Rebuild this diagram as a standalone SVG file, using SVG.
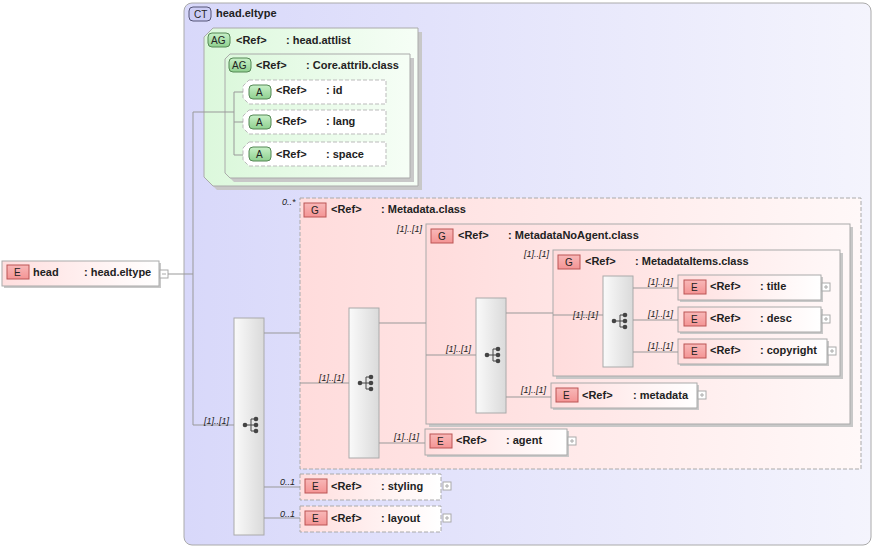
<svg xmlns="http://www.w3.org/2000/svg" xmlns:xlink="http://www.w3.org/1999/xlink" width="875" height="548" viewBox="0 0 875 548">
<style>
text{font-family:"Liberation Sans",Arial,sans-serif;font-size:11px;font-weight:bold;fill:#222}
.occ{font-size:9px;font-style:italic;font-weight:normal}
.badge{font-weight:normal;font-size:10px}
.ln{stroke:#999;stroke-width:1;fill:none}
.el{fill:url(#gE);stroke:#aaa}
.eb{fill:url(#gB);stroke:#b55}
.ab{fill:url(#gAB);stroke:#585}
.comp{fill:url(#gC);stroke:#aaa}
.sh{fill:#c8c8c8}
.plus{fill:#fff;stroke:#aaa}
</style>
<defs>
<linearGradient id="gCT" x1="0" x2="1"><stop offset="0" stop-color="#d8d8fa"/><stop offset="1" stop-color="#f4f4fd"/></linearGradient>
<linearGradient id="gAG" x1="0" x2="1"><stop offset="0" stop-color="#dcf8dc"/><stop offset="1" stop-color="#f6fef6"/></linearGradient>
<linearGradient id="gG" x1="0" x2="1"><stop offset="0" stop-color="#ffdcdc"/><stop offset="1" stop-color="#fff8f8"/></linearGradient>
<linearGradient id="gE" x1="0" x2="1"><stop offset="0" stop-color="#ffdede"/><stop offset="1" stop-color="#fff"/></linearGradient>
<linearGradient id="gB" x1="0" x2="0" y1="0" y2="1"><stop offset="0" stop-color="#f8b8b8"/><stop offset="1" stop-color="#f49494"/></linearGradient>
<linearGradient id="gAB" x1="0" x2="0" y1="0" y2="1"><stop offset="0" stop-color="#c8f0c8"/><stop offset="1" stop-color="#8fd08f"/></linearGradient>
<linearGradient id="gC" x1="0" x2="1"><stop offset="0" stop-color="#fafafa"/><stop offset="1" stop-color="#dadada"/></linearGradient>
<g id="seq"><circle cx="-6" cy="0" r="2.3" fill="#444"/><path d="M-6 0H0M0-6V6M0-6H4M0 0H4M0 6H4" stroke="#444" fill="none"/><circle cx="5" cy="-6" r="2.3" fill="#444"/><circle cx="5" cy="0" r="2.3" fill="#444"/><circle cx="5" cy="6" r="2.3" fill="#444"/></g>
<g id="plus"><rect x="0" y="0" width="8" height="8" class="plus"/><path d="M2 4H6M4 2V6" stroke="#aaa"/></g>
</defs>

<g id="ct">
<rect x="184" y="3" width="687" height="542" rx="8" fill="url(#gCT)" stroke="#aaa"/>
<rect x="189" y="7" width="22" height="14" rx="4" fill="#ccccf4" stroke="#557"/><text x="194" y="18" class="badge">CT</text>
<text x="216" y="17">head.eltype</text>
</g>

<g id="head">
<rect x="4" y="263" width="157" height="25" class="sh"/>
<rect x="2" y="261" width="157" height="25" class="el"/>
<rect x="7" y="265" width="22" height="14" class="eb"/><text x="14" y="276" class="badge">E</text>
<text x="33" y="276">head</text><text x="84" y="276">: head.eltype</text>
<rect x="160" y="270" width="8" height="8" class="plus"/><path d="M162 274H166" stroke="#aaa"/>
</g>

<g id="head-attlist">
<path d="M217 32H422V190H217L208 181V41Z" class="sh"/>
<path d="M213 28H418V186H213L204 177V37Z" fill="url(#gAG)" stroke="#aaa"/>
<rect x="208" y="33" width="22" height="14" rx="4" class="ab"/><text x="211" y="44" class="badge">AG</text>
<text x="236" y="44">&lt;Ref&gt;</text><text x="286" y="44">: head.attlist</text>
</g>
<g id="core-attrib">
<path d="M234 58H414V182H234L229 177V63Z" class="sh"/>
<path d="M230 54H410V178H230L225 173V59Z" fill="url(#gAG)" stroke="#aaa"/>
<rect x="229" y="58" width="22" height="14" rx="4" class="ab"/><text x="232" y="69" class="badge">AG</text>
<text x="256" y="69">&lt;Ref&gt;</text><text x="306" y="69">: Core.attrib.class</text>
</g>
<g id="attr-id">
<path d="M249 80H386V104H249L243 98V86Z" fill="#fff" stroke="#bbb" stroke-dasharray="4,2"/>
<rect x="249" y="85" width="22" height="14" rx="4" class="ab"/><text x="256" y="96" class="badge">A</text>
<text x="276" y="94">&lt;Ref&gt;</text><text x="326" y="94">: id</text>
</g>
<g id="attr-lang">
<path d="M249 110H386V134H249L243 128V116Z" fill="#fff" stroke="#bbb" stroke-dasharray="4,2"/>
<rect x="249" y="115" width="22" height="14" rx="4" class="ab"/><text x="256" y="126" class="badge">A</text>
<text x="276" y="125">&lt;Ref&gt;</text><text x="326" y="125">: lang</text>
</g>
<g id="attr-space">
<path d="M249 142H386V166H249L243 160V148Z" fill="#fff" stroke="#bbb" stroke-dasharray="4,2"/>
<rect x="249" y="147" width="22" height="14" rx="4" class="ab"/><text x="256" y="158" class="badge">A</text>
<text x="276" y="158">&lt;Ref&gt;</text><text x="326" y="158">: space</text>
</g>

<g id="seq-main"><rect x="234" y="318" width="30" height="217" class="comp"/><use xlink:href="#seq" x="251" y="425"/></g>

<g id="metadata-class">
<rect x="300" y="198" width="561" height="271" fill="url(#gG)" stroke="#aaa" stroke-dasharray="4,2"/>
<rect x="304" y="203" width="22" height="14" class="eb"/><text x="311" y="214" class="badge">G</text>
<text x="331" y="213">&lt;Ref&gt;</text><text x="381" y="213">: Metadata.class</text>
</g>
<g id="seq-meta"><rect x="349" y="308" width="30" height="150" class="comp"/><use xlink:href="#seq" x="366" y="383"/></g>

<g id="metadatanoagent">
<rect x="429" y="227" width="424" height="200" class="sh"/>
<rect x="426" y="224" width="424" height="200" fill="url(#gG)" stroke="#aaa"/>
<rect x="431" y="229" width="22" height="14" class="eb"/><text x="438" y="240" class="badge">G</text>
<text x="458" y="239">&lt;Ref&gt;</text><text x="508" y="239">: MetadataNoAgent.class</text>
</g>
<g id="seq-noagent"><rect x="476" y="298" width="30" height="115" class="comp"/><use xlink:href="#seq" x="493" y="355"/></g>

<g id="metadataitems">
<rect x="556" y="253" width="287" height="126" class="sh"/>
<rect x="553" y="250" width="287" height="126" fill="url(#gG)" stroke="#aaa"/>
<rect x="558" y="255" width="22" height="14" class="eb"/><text x="565" y="266" class="badge">G</text>
<text x="585" y="265">&lt;Ref&gt;</text><text x="635" y="265">: MetadataItems.class</text>
</g>
<g id="seq-items"><rect x="603" y="276" width="30" height="91" class="comp"/><use xlink:href="#seq" x="620" y="321"/></g>

<g id="title">
<rect x="680" y="277" width="143" height="25" class="sh"/>
<rect x="678" y="275" width="143" height="25" class="el"/>
<rect x="684" y="280" width="22" height="14" class="eb"/><text x="691" y="291" class="badge">E</text>
<text x="710" y="290">&lt;Ref&gt;</text><text x="760" y="290">: title</text>
<use xlink:href="#plus" x="822" y="283"/>
</g>
<g id="desc">
<rect x="680" y="309" width="143" height="25" class="sh"/>
<rect x="678" y="307" width="143" height="25" class="el"/>
<rect x="684" y="312" width="22" height="14" class="eb"/><text x="691" y="323" class="badge">E</text>
<text x="710" y="322">&lt;Ref&gt;</text><text x="760" y="322">: desc</text>
<use xlink:href="#plus" x="822" y="315"/>
</g>
<g id="copyright">
<rect x="680" y="341" width="149" height="25" class="sh"/>
<rect x="678" y="339" width="149" height="25" class="el"/>
<rect x="684" y="344" width="22" height="14" class="eb"/><text x="691" y="355" class="badge">E</text>
<text x="710" y="354">&lt;Ref&gt;</text><text x="760" y="354">: copyright</text>
<use xlink:href="#plus" x="828" y="347"/>
</g>
<g id="metadata">
<rect x="553" y="385" width="146" height="25" class="sh"/>
<rect x="551" y="383" width="146" height="25" class="el"/>
<rect x="556" y="388" width="22" height="14" class="eb"/><text x="563" y="399" class="badge">E</text>
<text x="582" y="399">&lt;Ref&gt;</text><text x="633" y="399">: metadata</text>
<use xlink:href="#plus" x="698" y="391"/>
</g>
<g id="agent">
<rect x="427" y="431" width="142" height="26" class="sh"/>
<rect x="425" y="429" width="142" height="26" class="el"/>
<rect x="430" y="434" width="22" height="14" class="eb"/><text x="437" y="445" class="badge">E</text>
<text x="456" y="444">&lt;Ref&gt;</text><text x="506" y="444">: agent</text>
<use xlink:href="#plus" x="568" y="437"/>
</g>
<g id="styling">
<rect x="300" y="474" width="141" height="26" class="el" stroke-dasharray="4,2"/>
<rect x="305" y="479" width="22" height="14" class="eb"/><text x="312" y="490" class="badge">E</text>
<text x="331" y="490">&lt;Ref&gt;</text><text x="381" y="490">: styling</text>
<use xlink:href="#plus" x="443" y="482"/>
</g>
<g id="layout">
<rect x="300" y="506" width="141" height="26" class="el" stroke-dasharray="4,2"/>
<rect x="305" y="511" width="22" height="14" class="eb"/><text x="312" y="522" class="badge">E</text>
<text x="331" y="522">&lt;Ref&gt;</text><text x="381" y="522">: layout</text>
<use xlink:href="#plus" x="443" y="514"/>
</g>

<g id="connectors">
<path class="ln" d="M168 274H193M193 112V425H234M193 112H225M225 112H234M234 92V155M234 92H243M234 122H243M234 155H243"/>
<path class="ln" d="M264 333H300M264 487H300M264 518H300"/>
<path class="ln" d="M300 383H349M379 323H426M379 443H425"/>
<path class="ln" d="M426 355H476M506 313H553M506 397H551"/>
<path class="ln" d="M553 315H603M633 288H678M633 320H678M633 352H678"/>
<text x="204" y="424" class="occ">[1]..[1]</text>
<text x="280" y="485" class="occ">0..1</text>
<text x="280" y="517" class="occ">0..1</text>
<text x="282" y="205" class="occ">0..*</text>
<text x="319" y="381" class="occ">[1]..[1]</text>
<text x="397" y="232" class="occ">[1]..[1]</text>
<text x="394" y="440" class="occ">[1]..[1]</text>
<text x="446" y="352" class="occ">[1]..[1]</text>
<text x="524" y="257" class="occ">[1]..[1]</text>
<text x="521" y="393" class="occ">[1]..[1]</text>
<text x="573" y="318" class="occ">[1]..[1]</text>
<text x="648" y="285" class="occ">[1]..[1]</text>
<text x="648" y="317" class="occ">[1]..[1]</text>
<text x="648" y="349" class="occ">[1]..[1]</text>
</g>
</svg>
